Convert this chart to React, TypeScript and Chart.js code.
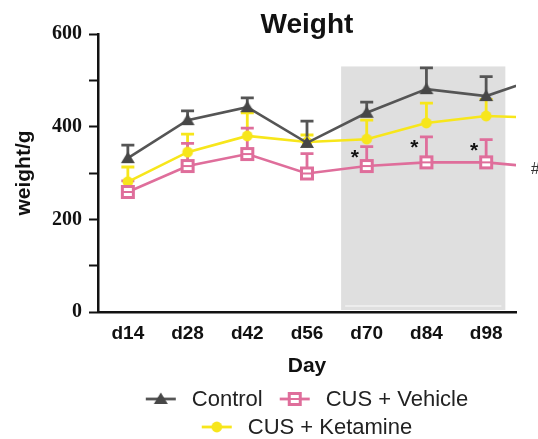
import React, { useEffect, useRef } from 'react';
import { Chart, registerables } from 'chart.js';

Chart.register(...registerables);

// ---- data ----
const days = [14, 28, 42, 56, 70, 84, 98, 112];
const dayLabels = ['d14', 'd28', 'd42', 'd56', 'd70', 'd84', 'd98'];
const controlMean = [332, 414, 442, 365, 430, 481, 466, 510];
const controlErr = [28, 20, 20, 47, 23, 46, 42, null];
const ketamineMean = [281, 345, 380, 367, 373, 408, 423, 419];
const ketamineErr = [32, 39, 50, 15, 41, 43, 36, null];
const vehicleMean = [259, 315, 341, 299, 315, 323, 323, 311];
const vehicleErr = [24, 49, 56, 43, 42, 55, 49, null];
const yTickLabels = [0, 200, 400, 600];
const starIndices = [4, 5, 6];
const shadeStartDay = 64;
const shadeEndDay = 102.5;
const shadeTop = 530;
const seriesNames = ['Control', 'CUS + Vehicle', 'CUS + Ketamine'];

const GRAY = '#555555';
const YELLOW = '#f7e61b';
const PINK = '#df6e9b';

type Kind = 'triangle' | 'circle' | 'square';

function makeMarker(kind: Kind): HTMLCanvasElement {
  const c = document.createElement('canvas');
  const s = 18;
  c.width = s;
  c.height = s;
  const g = c.getContext('2d')!;
  const m = s / 2;
  if (kind === 'triangle') {
    g.fillStyle = '#474747';
    g.beginPath();
    g.moveTo(m, m - 6.5);
    g.lineTo(m + 7, m + 5);
    g.lineTo(m - 7, m + 5);
    g.closePath();
    g.fill();
  } else if (kind === 'circle') {
    g.fillStyle = YELLOW;
    g.beginPath();
    g.arc(m, m, 5.4, 0, Math.PI * 2);
    g.fill();
  } else {
    g.fillStyle = PINK;
    g.fillRect(m - 7, m - 7, 14, 14);
    g.fillStyle = '#ffffff';
    g.fillRect(m - 4, m - 4, 8, 8);
    g.fillStyle = PINK;
    g.fillRect(m - 4, m - 1, 8, 2);
  }
  return c;
}

export default function App() {
  const ref = useRef<HTMLCanvasElement | null>(null);

  useEffect(() => {
    const canvas = ref.current;
    if (!canvas) return;
    const mk: Record<Kind, HTMLCanvasElement> = {
      triangle: makeMarker('triangle'),
      circle: makeMarker('circle'),
      square: makeMarker('square'),
    };

    const series = [
      { name: seriesNames[0], mean: controlMean, err: controlErr, color: GRAY, kind: 'triangle' as Kind },
      { name: seriesNames[1], mean: vehicleMean, err: vehicleErr, color: PINK, kind: 'square' as Kind },
      { name: seriesNames[2], mean: ketamineMean, err: ketamineErr, color: YELLOW, kind: 'circle' as Kind },
    ];

    const overlay = {
      id: 'overlay',
      beforeDatasetsDraw(chart: any) {
        const { ctx, scales } = chart;
        const x = scales.x;
        const y = scales.y;
        ctx.save();
        const l = x.getPixelForValue(shadeStartDay);
        const r = x.getPixelForValue(shadeEndDay);
        const t = y.getPixelForValue(shadeTop);
        const b = y.getPixelForValue(0) - 2;
        ctx.fillStyle = '#dfdfdf';
        ctx.fillRect(l, t, r - l, b - t);
        ctx.strokeStyle = '#f2f2f2';
        ctx.lineWidth = 1.5;
        ctx.beginPath();
        ctx.moveTo(l + 4, b - 4);
        ctx.lineTo(r - 4, b - 4);
        ctx.stroke();

        // error bars (upper only), drawn back-to-front
        [...series].reverse().forEach((s) => {
          ctx.strokeStyle = s.color;
          ctx.lineWidth = 2.8;
          s.err.forEach((e, i) => {
            if (e === null || e === undefined) return;
            const px = x.getPixelForValue(days[i]);
            const p0 = y.getPixelForValue(s.mean[i]);
            const p1 = y.getPixelForValue(s.mean[i] + e);
            ctx.beginPath();
            ctx.moveTo(px, p0);
            ctx.lineTo(px, p1);
            ctx.moveTo(px - 6.5, p1);
            ctx.lineTo(px + 6.5, p1);
            ctx.stroke();
          });
        });
        ctx.restore();
      },
      afterDraw(chart: any) {
        const { ctx, chartArea, scales } = chart;
        const x = scales.x;
        const y = scales.y;
        const cx = (chartArea.left + chartArea.right) / 2;
        ctx.save();
        ctx.fillStyle = '#111';
        // title
        ctx.font = 'bold 28px "Liberation Sans", Arial, sans-serif';
        ctx.textAlign = 'center';
        ctx.textBaseline = 'alphabetic';
        ctx.fillText('Weight', cx, 33);
        // x title
        ctx.font = 'bold 21px "Liberation Sans", Arial, sans-serif';
        ctx.fillText('Day', cx, 372);
        // y title
        ctx.save();
        ctx.translate(30, (chartArea.top + chartArea.bottom) / 2);
        ctx.rotate(-Math.PI / 2);
        ctx.fillText('weight/g', 0, 0);
        ctx.restore();

        // significance marks
        ctx.font = 'bold 21px "Liberation Sans", Arial, sans-serif';
        ctx.fillStyle = '#111';
        starIndices.forEach((i) => {
          const e = vehicleErr[i] as number;
          const px = x.getPixelForValue(days[i]) - 12;
          const py = y.getPixelForValue(vehicleMean[i] + e) + 5;
          ctx.fillText('*', px, py + 12);
        });
        ctx.font = '16px "Liberation Sans", Arial, sans-serif';
        ctx.textAlign = 'left';
        ctx.fillStyle = '#333';
        ctx.fillText('#', chartArea.right + 15, y.getPixelForValue(vehicleMean[6]) + 12);

        // legend
        ctx.font = '22px "Liberation Sans", Arial, sans-serif';
        ctx.fillStyle = '#222';
        ctx.textBaseline = 'middle';
        const markW = 30;
        const gapText = 16;
        const gapItem = 17;
        const rows = [[series[0], series[1]], [series[2]]];
        const rowY = [399, 427];
        rows.forEach((row, ri) => {
          const widths = row.map((s) => markW + gapText + ctx.measureText(s.name).width);
          const total = widths.reduce((a, b) => a + b, 0) + gapItem * (row.length - 1);
          let sx = cx - total / 2;
          row.forEach((s, k) => {
            const yy = rowY[ri];
            ctx.strokeStyle = s.color;
            ctx.lineWidth = 2.8;
            ctx.beginPath();
            ctx.moveTo(sx, yy);
            ctx.lineTo(sx + markW, yy);
            ctx.stroke();
            const img = mk[s.kind];
            ctx.drawImage(img, sx + markW / 2 - img.width / 2, yy - img.height / 2);
            ctx.textAlign = 'left';
            ctx.fillText(s.name, sx + markW + gapText, yy + 1);
            sx += widths[k] + gapItem;
          });
        });
        ctx.restore();
      },
    };

    const mkDataset = (s: (typeof series)[number]) => ({
      label: s.name,
      data: days.map((d, i) => ({ x: d, y: s.mean[i] })),
      borderColor: s.color,
      borderWidth: 2.6,
      pointStyle: mk[s.kind],
      pointRadius: days.map((_, i) => (s.err[i] === null ? 0 : 6)),
      tension: 0,
    });

    const chart = new Chart(canvas, {
      type: 'line',
      data: {
        datasets: series.map(mkDataset) as any,
      },
      options: {
        animation: false,
        responsive: false,
        events: [],
        layout: { padding: { left: 0, right: 22, top: 34, bottom: 0 } },
        plugins: {
          legend: { display: false },
          title: { display: false },
          tooltip: { enabled: false },
        },
        scales: {
          x: {
            type: 'linear',
            min: 7,
            max: 105,
            afterBuildTicks: (scale: any) => {
              scale.ticks = days.slice(0, dayLabels.length).map((v) => ({ value: v }));
            },
            afterFit: (scale: any) => {
              scale.height = 127;
            },
            ticks: {
              callback: (v: any) => dayLabels[days.indexOf(Number(v))] ?? '',
              font: { family: '"Liberation Sans", Arial, sans-serif', size: 19, weight: 'bold' },
              color: '#111',
              padding: 2,
              maxRotation: 0,
              autoSkip: false,
            },
            grid: { display: false },
            border: { display: true, color: '#111', width: 2.5 },
          },
          y: {
            type: 'linear',
            min: 0,
            max: 600,
            afterFit: (scale: any) => {
              scale.width = 98;
            },
            ticks: {
              stepSize: 100,
              callback: (v: any) => (yTickLabels.includes(Number(v)) ? String(v) : ''),
              font: { family: '"Liberation Serif", "Times New Roman", serif', size: 20, weight: 'bold' },
              color: '#111',
              padding: 7,
            },
            grid: {
              display: true,
              drawOnChartArea: false,
              drawTicks: true,
              tickLength: 9,
              tickWidth: 2,
              tickColor: '#111',
            },
            border: { display: true, color: '#111', width: 2.5 },
          },
        },
      },
      plugins: [overlay],
    } as any);

    return () => chart.destroy();
  }, []);

  return (
    <div style={{ position: 'absolute', left: 0, top: 0, width: 538, height: 439, background: '#fff' }}>
      <canvas ref={ref} width={538} height={439} style={{ display: 'block' }} />
    </div>
  );
}
